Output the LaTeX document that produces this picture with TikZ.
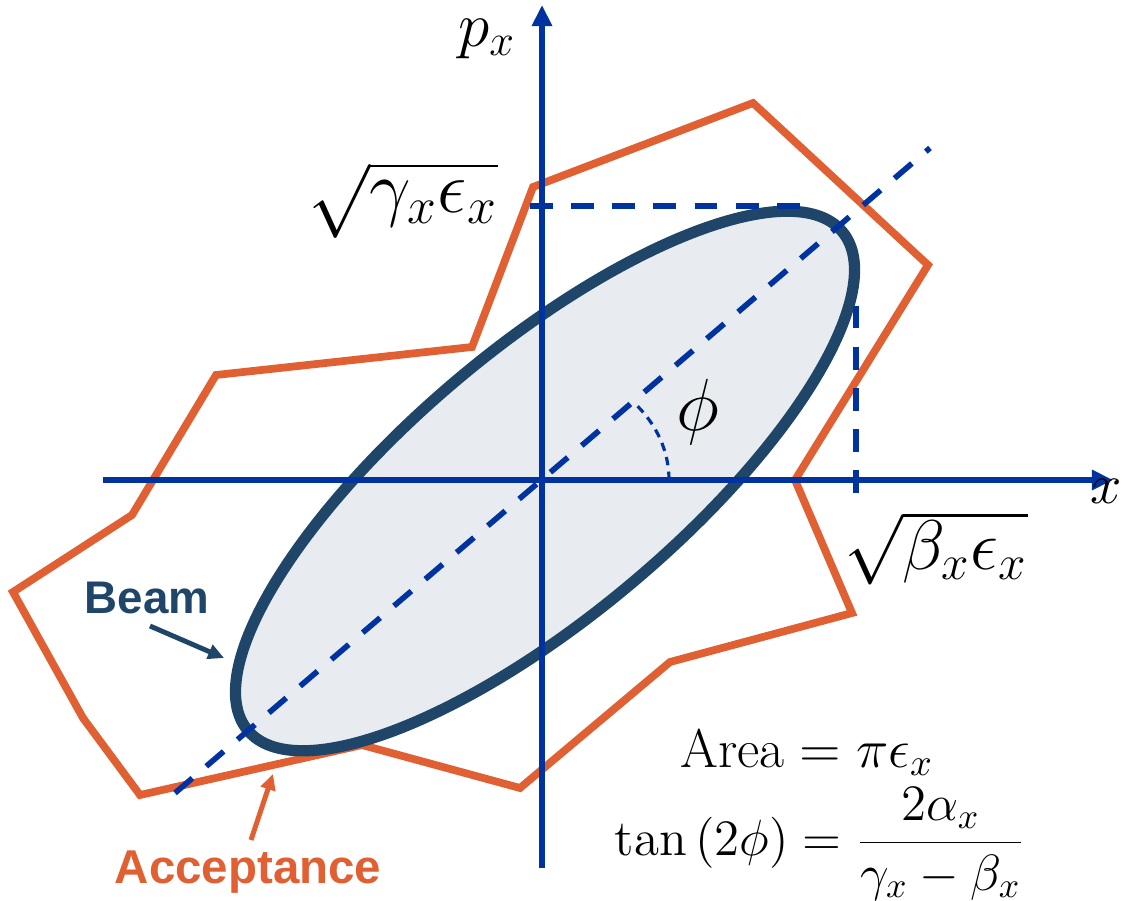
\documentclass[tikz,border=0pt]{standalone}
\usepackage{fix-cm}
\usepackage{fontspec}
\newfontfamily\labelfont{Liberation Sans}
\usetikzlibrary{arrows.meta}
\definecolor{axisblue}{HTML}{0033A0}
\definecolor{beamnavy}{HTML}{1F4569}
\definecolor{beamfill}{HTML}{E8ECF0}
\definecolor{accorange}{HTML}{E06033}

\tikzset{
  axis/.style={draw=axisblue, line width=1.5pt, -{Triangle[length=6pt,width=5.5pt]}},
  guide/.style={draw=axisblue, line width=1.6pt, dash pattern=on 6.5pt off 5.2pt},
  pointer/.style={line width=1.4pt, -{Triangle[length=4.5pt,width=4.2pt]}},
  sym/.style={inner sep=0pt},
  tag/.style={inner sep=0pt, font=\labelfont\bfseries\fontsize{13}{15}\selectfont},
}

\begin{document}
\begin{tikzpicture}[x=0.01cm,y=-0.01cm]
\useasboundingbox (0,0) rectangle (1122,901);
% acceptance region
\draw[accorange, line width=2.2pt] (533,187) -- (753,103) -- (928,265) -- (795,480)
  -- (852,613) -- (670,662) -- (520,788) -- (362,745) -- (140,795) -- (83,718)
  -- (13,592) -- (132,515) -- (216,375) -- (472,347) -- cycle;
% beam ellipse
\draw[beamnavy, fill=beamfill, line width=3.2pt, rotate around={40:(545,481)}]
  (545,481) ellipse [x radius=388, y radius=134];
% axes
\coordinate (xstart) at (103,480);
\coordinate (xend) at (1113,480);
\coordinate (ystart) at (542,868);
\coordinate (yend) at (542,5);
\draw[axis] (xstart) -- (xend);
\draw[axis] (ystart) -- (yend);
\node[sym, font=\fontsize{18}{22}\selectfont] (px) at (487,39) {$p_x$};
\node[sym, font=\fontsize{16}{19}\selectfont] (xlab) at (1106,491) {$x$};
% projections and tilt
\draw[guide] (530,206) -- (808,206);
\draw[guide] (856,493) -- (856,290);
\draw[guide] (175,793) -- (930,148);
\draw[axisblue, line width=0.9pt, dash pattern=on 2.4pt off 1.8pt]
  (669,480) arc[start angle=0, end angle=-42, x radius=127, y radius=112];
\node[sym, font=\fontsize{21}{25}\selectfont] (phi) at (698,412) {$\phi$};
\node[sym, font=\fontsize{21}{25}\selectfont] (gam) at (403,200) {$\sqrt{\gamma_x\epsilon_x}$};
\node[sym, font=\fontsize{20}{24}\selectfont] (bet) at (936,548) {$\sqrt{\beta_x\epsilon_x}$};
% labels
\node[tag, text=beamnavy] (beam) at (147,598) {Beam};
\coordinate (beamtail) at (150,626);
\coordinate (beamtip) at (224,658);
\draw[pointer, beamnavy] (beamtail) -- (beamtip);
\node[tag, text=accorange, font=\labelfont\bfseries\fontsize{13.5}{16}\selectfont] (acc) at (248,872) {Acceptance};
\coordinate (acctail) at (251,840);
\coordinate (acctip) at (273,774);
\draw[pointer, accorange] (acctail) -- (acctip);
% formulas
\node[sym, font=\fontsize{15.5}{18}\selectfont] (area) at (807,752) {$\mathrm{Area}=\pi\epsilon_x$};
\node[sym, font=\fontsize{14.5}{17}\selectfont] (tan) at (820,844) {$\displaystyle\tan\left(2\phi\right)=\frac{2\alpha_x}{\gamma_x-\beta_x}$};
\end{tikzpicture}
\end{document}
